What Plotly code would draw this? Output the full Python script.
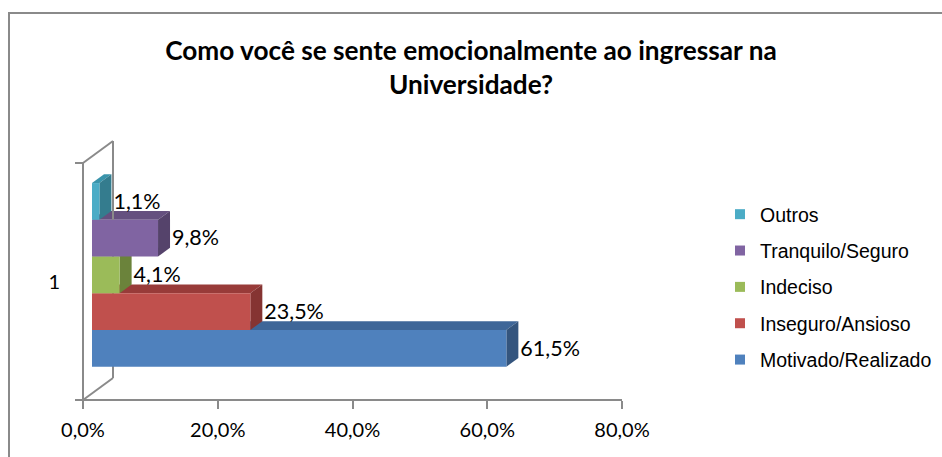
import plotly.graph_objects as go

# ---------------- data ----------------
series_names = ["Motivado/Realizado", "Inseguro/Ansioso", "Indeciso", "Tranquilo/Seguro", "Outros"]
series_values = [61.5, 23.5, 4.1, 9.8, 1.1]
category_labels = ["1"]
x_tick_values = [0, 20, 40, 60, 80]
x_tick_labels = ["0,0%", "20,0%", "40,0%", "60,0%", "80,0%"]

# ---------------- styles ----------------
front_colors = ["#4F81BD", "#C0504D", "#9BBB59", "#8064A2", "#4BACC6"]
top_colors = ["#3E6698", "#983B39", "#7D9A45", "#65507F", "#3A94AB"]
side_colors = ["#34557E", "#853432", "#6B833B", "#55436B", "#347C8E"]
grey = "#8A8A8A"

W, H = 942, 457
# pixel geometry of the projected 3D box
kx = 539 / 80.0          # px per percent
ky = 237.0               # px per category unit
xmin = -83 / kx
xmax = xmin + W / kx
ymin = -0.5 - 57 / ky
ymax = ymin + H / ky

wall_dx = 30 / kx        # depth projection in data units
wall_dy = 22 / ky
d0, d1 = 0.3, 0.7        # bars occupy this depth fraction
ox, oy = d0 * wall_dx, d0 * wall_dy
ddx, ddy = (d1 - d0) * wall_dx, (d1 - d0) * wall_dy

bar_w = 0.155
start = -bar_w * len(series_values) / 2

fig = go.Figure()
shapes = []

for i, (name, v) in enumerate(zip(series_names, series_values)):
    y0 = start + i * bar_w + oy
    y1 = y0 + bar_w
    xr = ox + v
    # top face
    shapes.append(dict(type="path", xref="x", yref="y", layer="below",
                       path=f"M{ox},{y1} L{xr},{y1} L{xr+ddx},{y1+ddy} L{ox+ddx},{y1+ddy} Z",
                       fillcolor=top_colors[i], line=dict(width=0)))
    # side face
    shapes.append(dict(type="path", xref="x", yref="y", layer="below",
                       path=f"M{xr},{y0} L{xr+ddx},{y0+ddy} L{xr+ddx},{y1+ddy} L{xr},{y1} Z",
                       fillcolor=side_colors[i], line=dict(width=0)))
    # front face
    fig.add_trace(go.Bar(
        y=[0], x=[v], base=[ox], orientation="h",
        width=bar_w, offset=start + i * bar_w + oy,
        marker=dict(color=front_colors[i], line=dict(width=0)),
        name=name, legendgroup=name, showlegend=False, hoverinfo="x+name"))
    # data label
    fig.add_trace(go.Scatter(
        x=[xr + ddx + 2 / kx], y=[(y0 + y1) / 2 - 0.008], mode="text",
        text=[f"{v:.1f}".replace(".", ",") + "%"], textposition="middle right",
        textfont=dict(family="Lato", size=21.5, color="#000000"),
        showlegend=False, hoverinfo="skip", legendgroup=name, cliponaxis=False))

# legend entries (top to bottom as in the reference)
for i in reversed(range(len(series_names))):
    fig.add_trace(go.Scatter(
        x=[None], y=[None], mode="markers", name=series_names[i],
        legendgroup=series_names[i],
        marker=dict(symbol="square", size=10, color=front_colors[i])))

# wall / floor lines
lines = [
    ((0, -0.5), (0, 0.5)),
    ((wall_dx, -0.5 + wall_dy), (wall_dx, 0.5 + wall_dy)),
    ((0, 0.5), (wall_dx, 0.5 + wall_dy)),
    ((0, -0.5), (wall_dx, -0.5 + wall_dy)),
    ((-8 / kx, 0.5), (0, 0.5)),
    ((-8 / kx, -0.5), (0, -0.5)),
    ((0, -0.5), (x_tick_values[-1], -0.5)),
]
for (a, b) in lines:
    shapes.append(dict(type="line", xref="x", yref="y", layer="below",
                       x0=a[0], y0=a[1], x1=b[0], y1=b[1],
                       line=dict(color=grey, width=2)))

# chart border
shapes.append(dict(type="rect", xref="paper", yref="paper",
                   x0=9 / W, x1=1.05, y0=-0.05, y1=1 - 13 / H,
                   line=dict(color=grey, width=2), fillcolor="rgba(0,0,0,0)"))

fig.update_layout(
    width=W, height=H, autosize=False,
    margin=dict(l=0, r=0, t=0, b=0),
    paper_bgcolor="white", plot_bgcolor="white",
    barmode="overlay",
    shapes=shapes,
    title=dict(text="Como você se sente emocionalmente ao ingressar na<br>Universidade?",
               x=471 / W, xanchor="center", y=1 - 60 / H, yanchor="top",
               font=dict(family="Lato", size=26.2, color="#000000", weight="bold")),
    legend=dict(x=720 / W, xanchor="left", y=1 - 195 / H, yanchor="top",
                font=dict(family="Liberation Sans, Arial", size=19.5, color="#000000"),
                tracegroupgap=8, bgcolor="rgba(0,0,0,0)"),
    xaxis=dict(domain=[0, 1], range=[xmin, xmax], anchor="free", position=1 - 400 / H,
               showline=False, showgrid=False, zeroline=False,
               tickvals=x_tick_values, ticktext=x_tick_labels,
               ticks="outside", ticklen=8, tickwidth=2, tickcolor=grey,
               ticklabelstandoff=4,
               tickfont=dict(family="Lato", size=20, color="#000000")),
    yaxis=dict(domain=[0, 1], range=[ymin, ymax], anchor="free", position=83 / W,
               showline=False, showgrid=False, zeroline=False,
               tickvals=[0], ticktext=category_labels, ticks="",
               ticklabelstandoff=23,
               tickfont=dict(family="Lato", size=20, color="#000000")),
)

fig.write_html("out.html", config={"displayModeBar": False},
               post_script="document.body.style.margin='0px';")
